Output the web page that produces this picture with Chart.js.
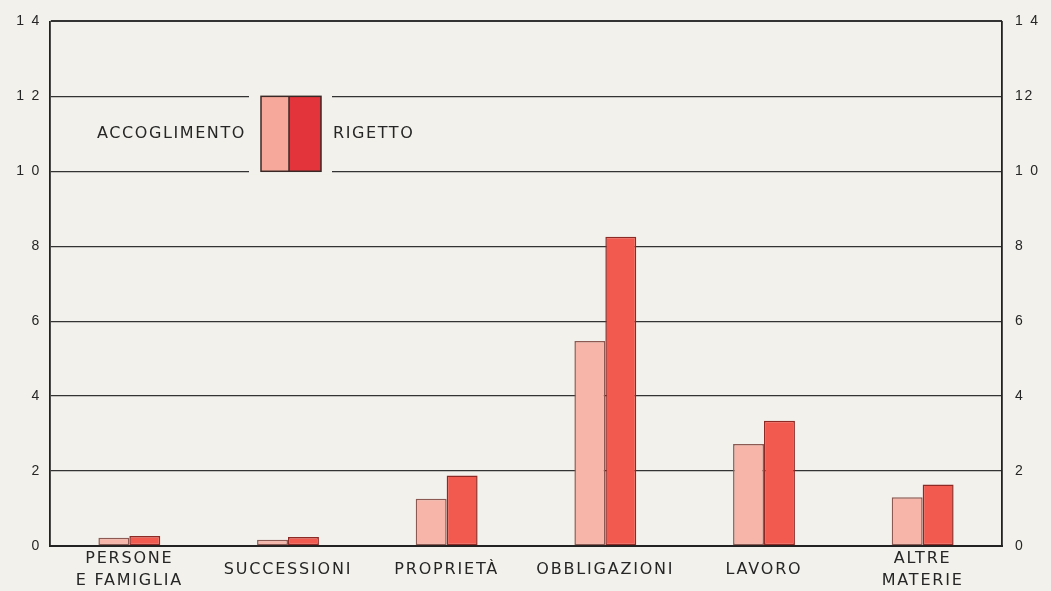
<!DOCTYPE html>
<html><head><meta charset="utf-8">
<script src="https://cdn.jsdelivr.net/npm/chart.js@4"></script>
<style>html,body{margin:0;padding:0;background:#f2f1eb;}#wrap{width:1051px;height:591px;}</style>
</head><body><div id="wrap"><canvas id="c" width="1051" height="591"></canvas></div>
<script>
const categories = [["PERSONE","E FAMIGLIA"],"SUCCESSIONI","PROPRIETÀ","OBBLIGAZIONI","LAVORO",["ALTRE","MATERIE"]];
const seriesNames = ["ACCOGLIMENTO","RIGETTO"];
const accoglimento = [0.22,0.17,1.26,5.47,2.72,1.30];
const rigetto = [0.27,0.24,1.88,8.25,3.34,1.64];
const tickValues = [0,2,4,6,8,10,12,14];
const leftTickLabels = ["0","2","4","6","8","1 0","1 2","1 4"];
const rightTickLabels = ["0","2","4","6","8","1 0","12","1 4"];

const BG = '#f2f1eb';
const INK = '#262626';

const spacingPlugin = {
  id: 'spacing',
  beforeDraw(chart) { try { chart.ctx.letterSpacing = '1.8px'; } catch(e) {} },
  beforeDatasetsDraw(chart) { try { chart.ctx.letterSpacing = '0px'; } catch(e) {} }
};

const legendPlugin = {
  id: 'boxLegend',
  afterDatasetsDraw(chart) {
    const ctx = chart.ctx;
    const y = chart.scales.y;
    const top = y.getPixelForValue(12), bot = y.getPixelForValue(10);
    ctx.save();
    ctx.fillStyle = BG;
    ctx.fillRect(249, top - 3, 83, bot - top + 6);
    const ds = chart.data.datasets;
    ctx.fillStyle = '#f6a99a';
    ctx.fillRect(261, top, 28, bot - top);
    ctx.fillStyle = '#e2343a';
    ctx.fillRect(289, top, 32, bot - top);
    ctx.strokeStyle = '#3a2826';
    ctx.lineWidth = 1.5;
    ctx.strokeRect(261, top, 60, bot - top);
    ctx.beginPath(); ctx.moveTo(289, top); ctx.lineTo(289, bot); ctx.stroke();
    ctx.fillStyle = INK;
    ctx.font = '16px "DejaVu Sans"';
    ctx.textBaseline = 'middle';
    try { ctx.letterSpacing = '1.6px'; } catch(e) {}
    const mid = (top + bot) / 2;
    ctx.textAlign = 'right';
    ctx.fillText(ds[0].label, 246, mid);
    ctx.textAlign = 'left';
    ctx.fillText(ds[1].label, 333, mid);
    ctx.restore();
  }
};

new Chart(document.getElementById('c'), {
  type: 'bar',
  data: {
    labels: categories,
    datasets: [
      { label: seriesNames[0], data: accoglimento, backgroundColor: '#f7b5a9', borderColor: '#8c5a52', borderWidth: 1.5, borderSkipped: false },
      { label: seriesNames[1], data: rigetto, backgroundColor: '#f25a50', borderColor: '#8e2a26', borderWidth: 1.5, borderSkipped: false }
    ]
  },
  options: {
    responsive: false,
    devicePixelRatio: 1,
    animation: false,
    layout: { padding: { top: 17, left: 0, right: 0, bottom: 0 } },
    datasets: { bar: { categoryPercentage: 0.39, barPercentage: 1.0 } },
    plugins: { legend: { display: false }, tooltip: { enabled: false }, title: { display: false } },
    scales: {
      x: {
        grid: { display: false },
        border: { display: true, color: '#222', width: 2 },
        ticks: { color: INK, font: { family: 'DejaVu Sans', size: 16, lineHeight: 1.34 }, padding: 5, crossAlign: 'center', maxRotation: 0, autoSkip: false },
        afterFit(s) { s.height = 45; }
      },
      y: {
        position: 'left',
        min: 0, max: 14,
        afterBuildTicks(s) { s.ticks = tickValues.map(v => ({ value: v })); },
        grid: { color: '#333', lineWidth: (c) => (c.tick && (c.tick.value === 14) ? 2 : 1.3), drawTicks: false },
        border: { display: true, color: '#222', width: 1.8 },
        ticks: { color: INK, font: { family: 'Liberation Sans', size: 14 }, padding: 9,
          callback: (v) => leftTickLabels[tickValues.indexOf(v)] },
        afterFit(s) { s.width = 50; }
      },
      y2: {
        position: 'right',
        min: 0, max: 14,
        afterBuildTicks(s) { s.ticks = tickValues.map(v => ({ value: v })); },
        grid: { display: false, drawTicks: false },
        border: { display: true, color: '#222', width: 1.8 },
        ticks: { color: INK, font: { family: 'Liberation Sans', size: 14 }, padding: 13,
          callback: (v) => rightTickLabels[tickValues.indexOf(v)] },
        afterFit(s) { s.width = 49; }
      }
    }
  },
  plugins: [spacingPlugin, legendPlugin]
});
</script></body></html>
